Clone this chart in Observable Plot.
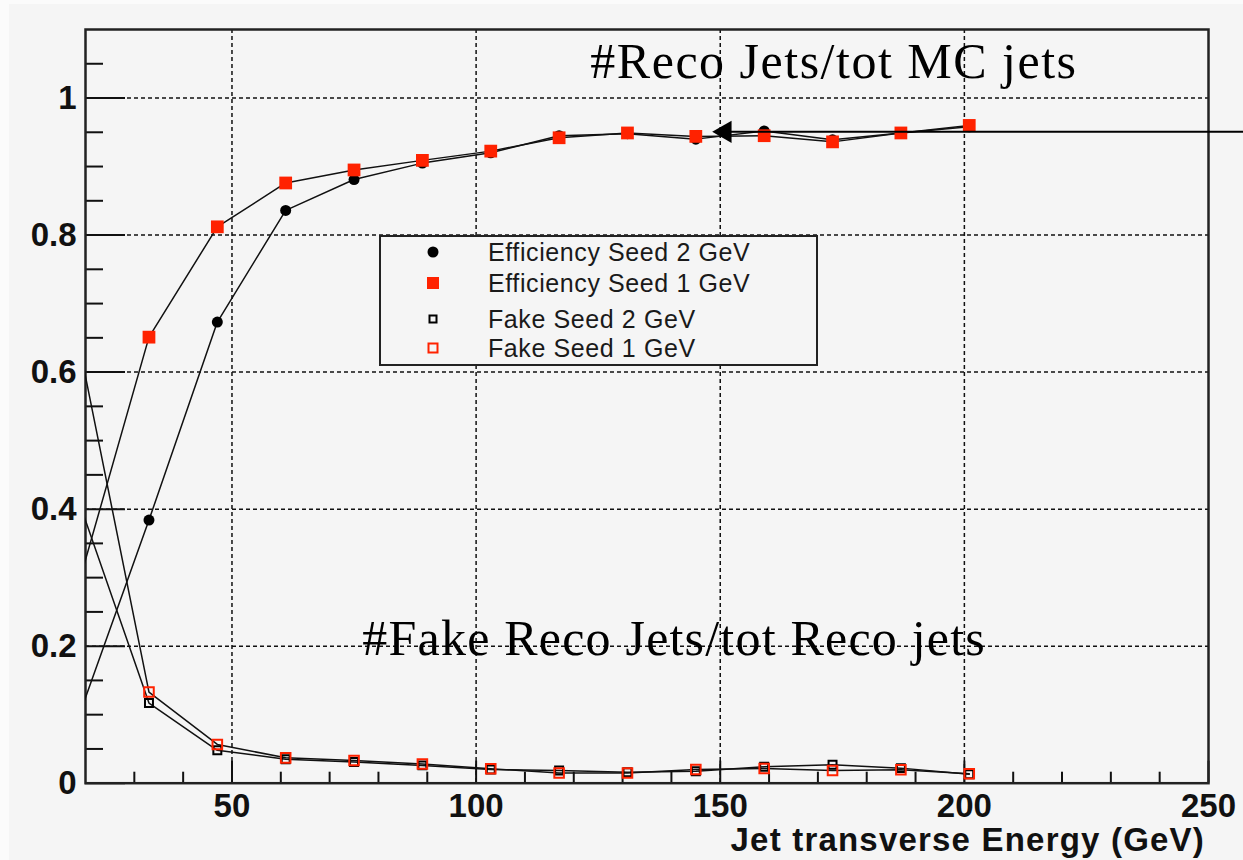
<!DOCTYPE html>
<html>
<head>
<meta charset="utf-8">
<script src="https://cdn.jsdelivr.net/npm/d3@7"></script>
<script src="https://cdn.jsdelivr.net/npm/@observablehq/plot@0.6"></script>
<style>
  html, body { margin: 0; padding: 0; background: #fbfbfb; width: 1243px; height: 860px; overflow: hidden; }
  #wrap { position: absolute; left: 9px; top: 4px; width: 1234px; height: 856px; background: #f5f5f5; overflow: hidden; }
  #chart svg { display: block; }
  #xtitle { position: absolute; right: 38px; top: 824px; font: bold 33px "Liberation Sans", Arial, sans-serif;
            line-height: 24px; letter-spacing: 1.2px; color: #111; white-space: nowrap; }
  #legend { position: absolute; left: 370px; top: 231px; width: 435px; height: 127px;
            border: 2px solid #222; background: #f5f5f5; }
  #legend svg { display: block; }
</style>
</head>
<body>
<div id="wrap">
  <div id="chart"></div>
  <div id="xtitle"></div>
  <div id="legend"></div>
</div>
<script>
// ---- data ----
const energy    = [19, 33, 47, 61, 75, 89, 103, 117, 131, 145, 159, 173, 187, 201];
const effSeed2  = [0.105, 0.384, 0.673, 0.836, 0.881, 0.905, 0.920, 0.945, 0.948, 0.940, 0.952, 0.939, 0.949, 0.958];
const effSeed1  = [0.301, 0.651, 0.812, 0.876, 0.895, 0.909, 0.9225, 0.942, 0.949, 0.944, 0.945, 0.936, 0.949, 0.960];
const fakeSeed2 = [0.404, 0.117, 0.048, 0.035, 0.031, 0.026, 0.020, 0.0185, 0.016, 0.0175, 0.024, 0.027, 0.022, 0.013];
const fakeSeed1 = [0.629, 0.133, 0.0566, 0.037, 0.033, 0.028, 0.021, 0.015, 0.015, 0.020, 0.0215, 0.0186, 0.0196, 0.0137];

const seriesNames = ["Efficiency Seed 2 GeV", "Efficiency Seed 1 GeV", "Fake Seed 2 GeV", "Fake Seed 1 GeV"];
const xTitle = "Jet transverse Energy (GeV)";

const xMajorTicks = [50, 100, 150, 200, 250];
const xGridTicks  = [50, 100, 150, 200];
const xMinorTicks = d3.range(30, 250, 10).filter(v => v % 50 !== 0);
const yMajorTicks = [0, 0.2, 0.4, 0.6, 0.8, 1];
const yGridTicks  = [0.2, 0.4, 0.6, 0.8, 1];
const yMinorTicks = d3.range(1, 22).filter(i => i % 4 !== 0).map(i => +(i * 0.05).toFixed(2));

const annotationTexts = ["#Reco Jets/tot MC jets", "#Fake Reco Jets/tot Reco jets"];
const annotationSpacing = ["1.5px", "1.2px"];
const annotationX = [123.4, 76.7];
const annotationY = [1.052, 0.210];
const arrowY = 0.9506;
const arrowX = [151.0, 257.2];

// ---- tables ----
const rows = (ys) => energy.map((x, i) => ({x, y: ys[i]}));
const eff2 = rows(effSeed2), eff1 = rows(effSeed1), fake2 = rows(fakeSeed2), fake1 = rows(fakeSeed1);
const inRange = (r) => r.filter(d => d.x >= 20);
const annotations = annotationTexts.map((t, i) => ({text: t, x: annotationX[i], y: annotationY[i]}));
const arrowShaft = [{x1: arrowX[0], x2: arrowX[1], y: arrowY}];
const arrowHead = [{x: arrowX[0], y: arrowY}];

const gridStyle = {stroke: "#111", strokeOpacity: 1, strokeWidth: 1.5, strokeDasharray: "4,3"};
const tickStyle = {stroke: "#111", strokeWidth: 2, label: null, tickFormat: () => ""};
const labelFont = {fontSize: 33, fontWeight: "bold", fill: "#111", label: null};

const chart = Plot.plot({
  width: 1234, height: 856,
  marginLeft: 76, marginRight: 35, marginTop: 25, marginBottom: 77.3,
  x: {domain: [20, 250], axis: null},
  y: {domain: [0, 1.1], axis: null},
  style: {background: "transparent", fontFamily: "'Liberation Sans', Arial, sans-serif", color: "#111", overflow: "visible"},
  marks: [
    Plot.gridX(xGridTicks, gridStyle),
    Plot.gridY(yGridTicks, gridStyle),
    // inward ticks
    Plot.axisX(xMinorTicks, {...tickStyle, tickSize: 11, dy: -11}),
    Plot.axisX(xMajorTicks, {...tickStyle, tickSize: 22, dy: -22}),
    Plot.axisY(yMinorTicks, {...tickStyle, tickSize: 18, dx: 18}),
    Plot.axisY(yMajorTicks, {...tickStyle, tickSize: 40, dx: 40}),
    // tick labels
    Plot.axisX(xMajorTicks, {...labelFont, tickSize: 0, tickPadding: 10}),
    Plot.axisY(yMajorTicks, {...labelFont, tickSize: 0, tickPadding: 9,
      tickFormat: d => String(+d.toFixed(1))}),
    Plot.frame({stroke: "#222", strokeWidth: 2.5}),
    // connecting lines
    Plot.line(eff2, {x: "x", y: "y", stroke: "#111", strokeWidth: 1.5, clip: true}),
    Plot.line(eff1, {x: "x", y: "y", stroke: "#111", strokeWidth: 1.5, clip: true}),
    Plot.line(fake2, {x: "x", y: "y", stroke: "#111", strokeWidth: 1.5, clip: true}),
    Plot.line(fake1, {x: "x", y: "y", stroke: "#111", strokeWidth: 1.5, clip: true}),
    // markers
    Plot.dot(inRange(eff2), {x: "x", y: "y", symbol: "circle", r: 5.5, fill: "#000"}),
    Plot.dot(inRange(eff1), {x: "x", y: "y", symbol: "square", r: 7.2, fill: "#ff2200"}),
    Plot.dot(inRange(fake2), {x: "x", y: "y", symbol: "square", r: 4.5, fill: "none", stroke: "#000", strokeWidth: 2}),
    Plot.dot(inRange(fake1), {x: "x", y: "y", symbol: "square", r: 5.4, fill: "none", stroke: "#ff2200", strokeWidth: 2}),
    // annotations
    Plot.ruleY(arrowShaft, {x1: "x1", x2: "x2", y: "y", stroke: "#000", strokeWidth: 2}),
    Plot.dot(arrowHead, {x: "x", y: "y", symbol: "triangle", r: 8.3, rotate: -90, fill: "#000"}),
    Plot.text(annotations, {x: "x", y: "y", text: "text", textAnchor: "start", fontSize: 50,
      fontFamily: "'Liberation Serif', 'DejaVu Serif', serif", fill: "#000"})
  ]
});
d3.select(chart).selectAll("text")
  .filter(function() { return annotationTexts.includes(this.textContent); })
  .attr("letter-spacing", function() { return annotationSpacing[annotationTexts.indexOf(this.textContent)]; });
document.getElementById("chart").append(chart);
document.getElementById("xtitle").textContent = xTitle;

// ---- legend ----
const lg = d3.select("#legend").append("svg").attr("width", 435).attr("height", 127);
const rowY = [15, 46, 82, 111];
const symX = 52, textX = 107;
const sym = lg.append("g");
sym.append("circle").attr("cx", symX).attr("cy", rowY[0]).attr("r", 5.5).attr("fill", "#000");
sym.append("rect").attr("x", symX - 6).attr("y", rowY[1] - 6).attr("width", 12).attr("height", 12).attr("fill", "#ff2200");
sym.append("rect").attr("x", symX - 3.5).attr("y", rowY[2] - 3.5).attr("width", 7).attr("height", 7)
  .attr("fill", "none").attr("stroke", "#000").attr("stroke-width", 2);
sym.append("rect").attr("x", symX - 4.5).attr("y", rowY[3] - 4.5).attr("width", 9).attr("height", 9)
  .attr("fill", "none").attr("stroke", "#ff2200").attr("stroke-width", 2);
lg.append("g").selectAll("text").data(seriesNames).join("text")
  .attr("x", textX).attr("y", (d, i) => rowY[i]).attr("dy", "0.36em")
  .attr("font-family", "'Liberation Sans', Arial, sans-serif").attr("font-size", 25)
  .attr("letter-spacing", "0.6px").attr("fill", "#1a1a1a").text(d => d);
</script>
</body>
</html>
